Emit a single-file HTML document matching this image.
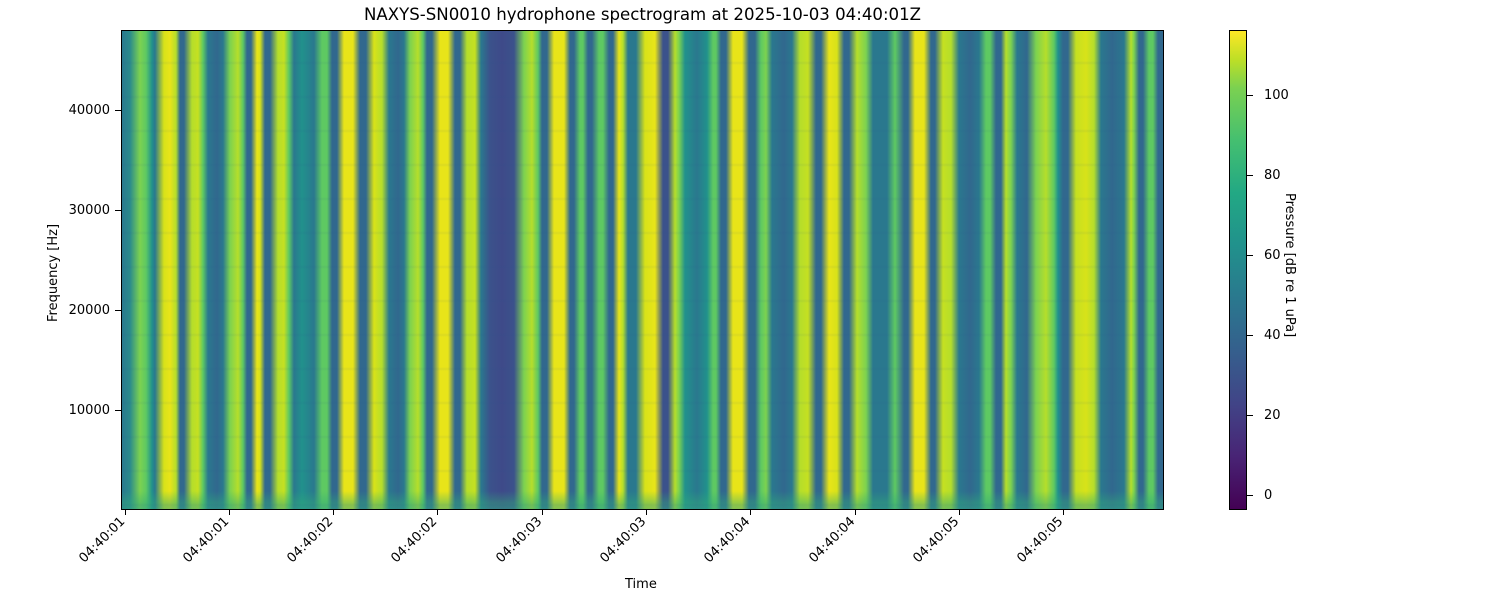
<!DOCTYPE html>
<html><head><style>
body{margin:0;width:1500px;height:600px;background:#fff;font-family:"DejaVu Sans","Liberation Sans",sans-serif;position:relative;overflow:hidden}
.a{position:absolute}
#plot{left:121px;top:30px;width:1043px;height:480px;border:1px solid #000;box-sizing:border-box;
background:
repeating-linear-gradient(to bottom,rgba(0,0,0,0) 0px,rgba(0,0,0,0) 30px,rgba(40,80,140,0.07) 32px,rgba(0,0,0,0) 34px),
linear-gradient(to bottom,rgba(40,170,130,0) 0,rgba(40,170,130,0) 460px,rgba(50,170,120,0.45) 472px,rgba(50,160,130,0.6) 480px),
linear-gradient(to right,
#2a788e 0px,#2a8a8c 8px,#7cd250 18px,#5ec962 24px,#21918c 30px,#2a788e 33px,#d8e219 42px,#e8e419 48px,#b5de2b 54px,#31688e 58px,#31688e 62px,#b5de2b 70px,#c5e021 76px,#5ec962 81px,#2a788e 86px,#31688e 95px,#2a788e 101px,#7cd250 108px,#b5de2b 116px,#5ec962 121px,#31688e 125px,#31688e 129px,#e8e419 135px,#d8e219 138px,#31688e 143px,#31688e 148px,#b5de2b 156px,#c5e021 162px,#5ec962 167px,#2a788e 172px,#21918c 180px,#2a788e 192px,#5ec962 200px,#5ec962 205px,#31688e 210px,#31688e 215px,#e8e419 222px,#e8e419 231px,#31688e 238px,#31688e 244px,#d8e219 252px,#b5de2b 260px,#2a788e 267px,#31688e 276px,#2a788e 282px,#7cd250 288px,#b5de2b 296px,#5ec962 301px,#31688e 305px,#31688e 310px,#e8e419 318px,#e8e419 326px,#31688e 333px,#31688e 338px,#b5de2b 345px,#c5e021 353px,#2a788e 359px,#3b528b 368px,#3e4a89 380px,#3b528b 392px,#7cd250 402px,#b5de2b 410px,#5ec962 416px,#31688e 420px,#31688e 425px,#e8e419 432px,#e8e419 442px,#31688e 448px,#31688e 452px,#5ec962 458px,#5ec962 461px,#31688e 466px,#31688e 470px,#5ec962 477px,#5ec962 481px,#31688e 487px,#31688e 491px,#e8e419 497px,#b5de2b 501px,#2a788e 506px,#2a788e 514px,
#d8e219 523px,#e8e419 533px,#3b528b 541px,#3b528b 546px,#b5de2b 553px,#7cd250 557px,#21918c 563px,#2a788e 575px,#21918c 585px,#5ec962 591px,#5ec962 594px,#31688e 599px,#31688e 604px,#e8e419 611px,#e8e419 620px,#31688e 627px,#31688e 633px,#5ec962 639px,#7cd250 644px,#2a788e 650px,#31688e 662px,#2a788e 670px,#b5de2b 678px,#c5e021 686px,#31688e 694px,#31688e 699px,#e8e419 707px,#d8e219 715px,#31688e 722px,#31688e 727px,#b5de2b 735px,#7cd250 744px,#2a788e 751px,#2a788e 765px,#5ec962 773px,#31688e 782px,#31688e 786px,#e8e419 793px,#e8e419 802px,#31688e 809px,#31688e 813px,#c5e021 821px,#b5de2b 829px,#2a788e 837px,#31688e 848px,#2a788e 857px,#5ec962 864px,#5ec962 868px,#31688e 874px,#31688e 879px,#b5de2b 884px,#7cd250 889px,#2a788e 895px,#31688e 905px,#7cd250 914px,#b5de2b 924px,#5ec962 932px,#21918c 936px,#31688e 941px,#31688e 946px,#c5e021 954px,#d8e219 964px,#b5de2b 972px,#2a788e 979px,#31688e 990px,#2a788e 1002px,#b5de2b 1009px,#7cd250 1012px,#31688e 1017px,#31688e 1021px,#5ec962 1027px,#5ec962 1031px,#31688e 1036px,#31688e 1043px)}
#cb{left:1229px;top:30px;width:18px;height:480px;border:1px solid #000;box-sizing:border-box;
background:linear-gradient(to top,#440154 0%,#482475 11%,#414487 22%,#355f8d 33%,#2a788e 44%,#21918c 55%,#22a884 66%,#44bf70 77%,#7ad151 88%,#bddf26 94%,#fde725 100%)}
.t{font-size:13px;color:#000;white-space:nowrap;line-height:15px}
.yt{width:6px;height:1px;background:#000}
.xt{width:1px;height:5px;background:#000}
.xl{transform-origin:100% 50%;transform:rotate(-45deg);text-align:right;width:80px;top:512px}
</style></head><body>
<div class="a t" style="left:0;width:1285px;top:5px;text-align:center;font-size:16.6px;line-height:19px">NAXYS-SN0010 hydrophone spectrogram at 2025-10-03 04:40:01Z</div>
<div class="a" id="plot"></div>
<div class="a" id="cb"></div>

<div class="a yt" style="left:115px;top:410px"></div><div class="a t" style="right:1390px;top:403px">10000</div>
<div class="a yt" style="left:115px;top:310px"></div><div class="a t" style="right:1390px;top:303px">20000</div>
<div class="a yt" style="left:115px;top:210px"></div><div class="a t" style="right:1390px;top:203px">30000</div>
<div class="a yt" style="left:115px;top:110px"></div><div class="a t" style="right:1390px;top:103px">40000</div>
<div class="a t" style="left:46px;top:322px;transform-origin:0 0;transform:rotate(-90deg);">Frequency [Hz]</div>

<div class="a xt" style="left:125px;top:510px"></div><div class="a t xl" style="left:43px">04:40:01</div>
<div class="a xt" style="left:229px;top:510px"></div><div class="a t xl" style="left:147px">04:40:01</div>
<div class="a xt" style="left:333px;top:510px"></div><div class="a t xl" style="left:251px">04:40:02</div>
<div class="a xt" style="left:437px;top:510px"></div><div class="a t xl" style="left:355px">04:40:02</div>
<div class="a xt" style="left:542px;top:510px"></div><div class="a t xl" style="left:460px">04:40:03</div>
<div class="a xt" style="left:646px;top:510px"></div><div class="a t xl" style="left:564px">04:40:03</div>
<div class="a xt" style="left:750px;top:510px"></div><div class="a t xl" style="left:668px">04:40:04</div>
<div class="a xt" style="left:855px;top:510px"></div><div class="a t xl" style="left:773px">04:40:04</div>
<div class="a xt" style="left:959px;top:510px"></div><div class="a t xl" style="left:877px">04:40:05</div>
<div class="a xt" style="left:1063px;top:510px"></div><div class="a t xl" style="left:981px">04:40:05</div>
<div class="a t" style="left:625px;top:577px">Time</div>

<div class="a yt" style="left:1247px;top:495px"></div><div class="a t" style="left:1264px;top:488px">0</div>
<div class="a yt" style="left:1247px;top:415px"></div><div class="a t" style="left:1264px;top:408px">20</div>
<div class="a yt" style="left:1247px;top:335px"></div><div class="a t" style="left:1264px;top:328px">40</div>
<div class="a yt" style="left:1247px;top:255px"></div><div class="a t" style="left:1264px;top:248px">60</div>
<div class="a yt" style="left:1247px;top:175px"></div><div class="a t" style="left:1264px;top:168px">80</div>
<div class="a yt" style="left:1247px;top:95px"></div><div class="a t" style="left:1264px;top:88px">100</div>
<div class="a t" style="left:1297px;top:193px;transform-origin:0 0;transform:rotate(90deg);">Pressure [dB re 1 uPa]</div>
</body></html>
